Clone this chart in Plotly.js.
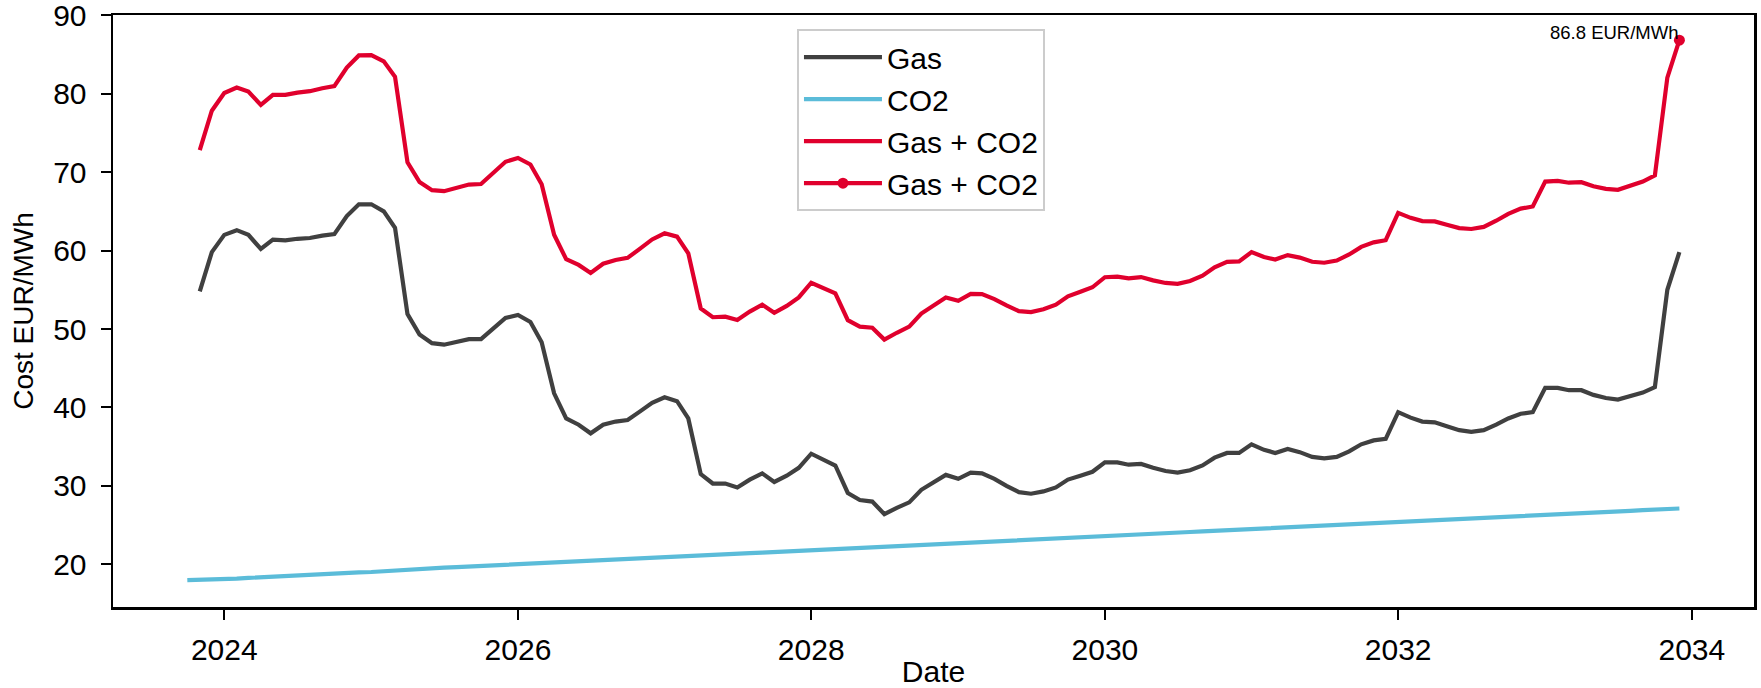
<!DOCTYPE html>
<html>
<head>
<meta charset="utf-8">
<script src="https://cdn.plot.ly/plotly-3.0.1.min.js"></script>
<style>
  html, body { margin: 0; padding: 0; background: #ffffff; }
  #chart { width: 1761px; height: 688px; }
</style>
</head>
<body>
<div id="chart"></div>
<script>
// Monthly dates, Oct 2023 .. Dec 2033 (CO2 series starts one month earlier than gas)
const co2Dates = [
  '2023-10','2023-11','2023-12',
  '2024-01','2024-02','2024-03','2024-04','2024-05','2024-06','2024-07','2024-08','2024-09','2024-10','2024-11','2024-12',
  '2025-01','2025-02','2025-03','2025-04','2025-05','2025-06','2025-07','2025-08','2025-09','2025-10','2025-11','2025-12',
  '2026-01','2026-02','2026-03','2026-04','2026-05','2026-06','2026-07','2026-08','2026-09','2026-10','2026-11','2026-12',
  '2027-01','2027-02','2027-03','2027-04','2027-05','2027-06','2027-07','2027-08','2027-09','2027-10','2027-11','2027-12',
  '2028-01','2028-02','2028-03','2028-04','2028-05','2028-06','2028-07','2028-08','2028-09','2028-10','2028-11','2028-12',
  '2029-01','2029-02','2029-03','2029-04','2029-05','2029-06','2029-07','2029-08','2029-09','2029-10','2029-11','2029-12',
  '2030-01','2030-02','2030-03','2030-04','2030-05','2030-06','2030-07','2030-08','2030-09','2030-10','2030-11','2030-12',
  '2031-01','2031-02','2031-03','2031-04','2031-05','2031-06','2031-07','2031-08','2031-09','2031-10','2031-11','2031-12',
  '2032-01','2032-02','2032-03','2032-04','2032-05','2032-06','2032-07','2032-08','2032-09','2032-10','2032-11','2032-12',
  '2033-01','2033-02','2033-03','2033-04','2033-05','2033-06','2033-07','2033-08','2033-09','2033-10','2033-11','2033-12'
];
const gasDates = co2Dates.slice(1); // Nov 2023 .. Dec 2033

const co2 = [
  17.98, 18.00, 18.03,
  18.08, 18.18, 18.27, 18.36, 18.45, 18.54, 18.63, 18.72, 18.80, 18.87, 18.93, 18.98,
  19.02, 19.13, 19.25, 19.36, 19.43, 19.50, 19.57, 19.64, 19.71, 19.78, 19.85, 19.92,
  20.00, 20.07, 20.15, 20.22, 20.30, 20.37, 20.45, 20.52, 20.60, 20.67, 20.75, 20.82,
  20.90, 20.97, 21.05, 21.12, 21.20, 21.27, 21.35, 21.42, 21.50, 21.57, 21.65, 21.72,
  21.80, 21.87, 21.95, 22.02, 22.10, 22.17, 22.25, 22.32, 22.40, 22.47, 22.55, 22.62,
  22.70, 22.77, 22.85, 22.92, 23.00, 23.07, 23.15, 23.22, 23.30, 23.37, 23.45, 23.52,
  23.60, 23.67, 23.75, 23.82, 23.90, 23.97, 24.05, 24.12, 24.20, 24.27, 24.35, 24.42,
  24.50, 24.57, 24.65, 24.72, 24.80, 24.87, 24.95, 25.02, 25.10, 25.17, 25.25, 25.32,
  25.40, 25.47, 25.55, 25.62, 25.70, 25.77, 25.85, 25.92, 26.00, 26.07, 26.15, 26.22,
  26.30, 26.37, 26.45, 26.52, 26.60, 26.67, 26.75, 26.82, 26.90, 26.97, 27.05, 27.12
];

const gas = [
  54.8, 59.8,
  62.0, 62.6, 62.0, 60.2, 61.4, 61.3, 61.5, 61.6, 61.9, 62.1, 64.4, 65.9,
  65.9, 65.0, 62.9, 51.9, 49.3, 48.2, 48.0, 48.3, 48.7, 48.7, 50.1, 51.4,
  51.8, 50.9, 48.3, 41.8, 38.6, 37.8, 36.7, 37.8, 38.2, 38.4, 39.5, 40.6,
  41.3, 40.8, 38.6, 31.5, 30.3, 30.3, 29.8, 30.8, 31.6, 30.5, 31.3, 32.3,
  34.1, 33.3, 32.6, 29.1, 28.2, 28.0, 26.4, 27.2, 27.9, 29.5, 30.4, 31.4,
  30.9, 31.7, 31.6, 30.9, 30.0, 29.2, 29.0, 29.3, 29.8, 30.8, 31.3, 31.8,
  33.0, 33.0, 32.7, 32.8, 32.3, 31.9, 31.7, 32.0, 32.6, 33.6, 34.2, 34.2,
  35.3, 34.6, 34.2, 34.7, 34.3, 33.7, 33.5, 33.7, 34.4, 35.3, 35.8, 36.0,
  39.4, 38.7, 38.2, 38.1, 37.6, 37.1, 36.9, 37.1, 37.8, 38.6, 39.2, 39.4,
  42.5, 42.5, 42.2, 42.2, 41.6, 41.2, 41.0, 41.4, 41.9, 42.6, 55.0, 59.8
];

const gasPlusCo2 = [
  72.80, 77.83,
  80.08, 80.78, 80.27, 78.56, 79.85, 79.84, 80.13, 80.32, 80.70, 80.97, 83.33, 84.88,
  84.92, 84.13, 82.15, 71.26, 68.73, 67.70, 67.57, 67.94, 68.41, 68.48, 69.95, 71.32,
  71.80, 70.97, 68.45, 62.02, 58.90, 58.17, 57.15, 58.32, 58.80, 59.07, 60.25, 61.42,
  62.20, 61.77, 59.65, 52.62, 51.50, 51.57, 51.15, 52.22, 53.10, 52.07, 52.95, 54.02,
  55.90, 55.17, 54.55, 51.12, 50.30, 50.17, 48.65, 49.52, 50.30, 51.97, 52.95, 54.02,
  53.60, 54.47, 54.45, 53.82, 53.00, 52.27, 52.15, 52.52, 53.10, 54.17, 54.75, 55.32,
  56.60, 56.67, 56.45, 56.62, 56.20, 55.87, 55.75, 56.12, 56.80, 57.87, 58.55, 58.62,
  59.80, 59.17, 58.85, 59.42, 59.10, 58.57, 58.45, 58.72, 59.50, 60.47, 61.05, 61.32,
  64.80, 64.17, 63.75, 63.72, 63.30, 62.87, 62.75, 63.02, 63.80, 64.67, 65.35, 65.62,
  68.80, 68.87, 68.65, 68.72, 68.20, 67.87, 67.75, 68.22, 68.80, 69.57, 82.05, 86.82
];

const seriesNames = ['Gas', 'CO2', 'Gas + CO2', 'Gas + CO2'];
const unitLabel = 'EUR/MWh';
const yTicks = [20, 30, 40, 50, 60, 70, 80, 90];

const colGas = '#404040';
const colCo2 = '#5bbcd9';
const colSum = '#e0002d';
const FONT = '"Liberation Sans", Arial, Helvetica, sans-serif';

const lastX = gasDates[gasDates.length - 1];
const lastY = gasPlusCo2[gasPlusCo2.length - 1];

const traces = [
  { x: gasDates, y: gas, name: seriesNames[0], type: 'scatter', mode: 'lines',
    line: { color: colGas, width: 4.2 } },
  { x: co2Dates, y: co2, name: seriesNames[1], type: 'scatter', mode: 'lines',
    line: { color: colCo2, width: 4.2 } },
  { x: gasDates, y: gasPlusCo2, name: seriesNames[2], type: 'scatter', mode: 'lines',
    line: { color: colSum, width: 4.2 } },
  { x: [lastX], y: [lastY], name: seriesNames[3], type: 'scatter', mode: 'lines+markers',
    line: { color: colSum, width: 4.2 }, marker: { color: colSum, size: 11 } }
];

const layout = {
  width: 1761, height: 688,
  margin: { l: 113, r: 7, t: 15, b: 81, pad: 0 },
  paper_bgcolor: '#ffffff', plot_bgcolor: '#ffffff',
  font: { family: FONT, size: 30, color: '#000000' },
  showlegend: true,
  legend: {
    x: 0.4168, y: 0.976, xanchor: 'left', yanchor: 'top',
    bgcolor: 'rgba(255,255,255,0.8)', bordercolor: '#cccccc', borderwidth: 2,
    font: { family: FONT, size: 30, color: '#000000' },
    tracegroupgap: 0, itemwidth: 78
  },
  xaxis: {
    type: 'date',
    range: ['2023-03-30', '2034-06-04 17:00'],
    tick0: '2024-01-01', dtick: 'M24', tickformat: '%Y',
    showgrid: false, zeroline: false,
    showline: true, linecolor: '#000000', linewidth: 2.5, mirror: true,
    ticks: 'outside', ticklen: 10, tickwidth: 2, tickcolor: '#000000',
    ticklabelstandoff: 4,
    tickfont: { family: FONT, size: 30, color: '#000000' },
    title: { text: 'Date', font: { family: FONT, size: 30, color: '#000000' }, standoff: 6 }
  },
  yaxis: {
    range: [14.56, 90.03],
    tickmode: 'array', tickvals: yTicks, ticktext: yTicks.map(String),
    ticklabeloverflow: 'allow',
    showgrid: false, zeroline: false,
    showline: true, linecolor: '#000000', linewidth: 2.5, mirror: true,
    ticks: 'outside', ticklen: 10, tickwidth: 2, tickcolor: '#000000',
    ticklabelstandoff: 8,
    tickfont: { family: FONT, size: 30, color: '#000000' },
    title: { text: 'Cost EUR/MWh', font: { family: FONT, size: 28, color: '#000000' }, standoff: 12 }
  },
  annotations: [{
    x: lastX, y: lastY, xref: 'x', yref: 'y',
    text: lastY.toFixed(1) + ' ' + unitLabel,
    showarrow: false, xanchor: 'right', yanchor: 'bottom',
    xshift: 2, yshift: -5,
    font: { family: FONT, size: 18.5, color: '#000000' }
  }]
};

Plotly.newPlot('chart', traces, layout, { displayModeBar: false, staticPlot: true });
</script>
</body>
</html>
